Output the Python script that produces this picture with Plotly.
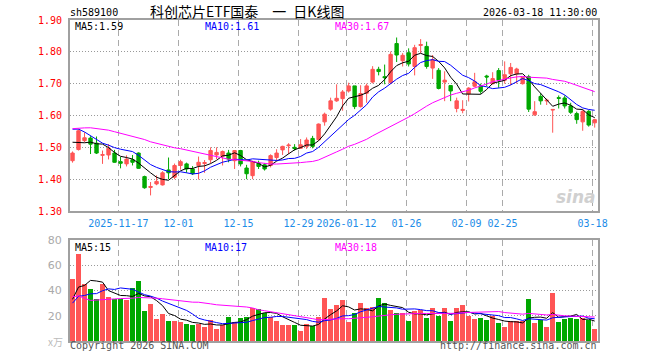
import plotly.graph_objects as go

# ---------------- data ----------------
tick_idx = [8, 18, 28, 38, 46, 56, 66, 72, 87]
tick_text = ["2025-11-17", "12-01", "12-15", "12-29", "2026-01-12",
             "01-26", "02-09", "02-25", "03-18"]

open_ = [1.458,1.493,1.521,1.529,1.513,1.475,1.476,1.482,1.455,1.448,
         1.461,1.482,1.408,1.374,1.385,1.382,1.429,1.406,1.443,1.448,
         1.432,1.443,1.449,1.461,1.476,1.472,1.482,1.458,1.490,1.435,
         1.411,1.450,1.445,1.443,1.468,1.492,1.505,1.500,1.497,1.503,
         1.528,1.524,1.580,1.620,1.646,1.653,1.677,1.693,1.628,1.670,
         1.705,1.745,1.722,1.703,1.826,1.772,1.797,1.754,1.820,1.817,
         1.749,1.742,1.705,1.694,1.622,1.616,1.668,1.692,1.693,1.724,
         1.700,1.741,1.711,1.731,1.731,1.700,1.722,1.602,1.660,1.646,
         1.617,1.656,1.655,1.630,1.606,1.580,1.613,1.577]
high = [1.487,1.557,1.547,1.535,1.534,1.490,1.510,1.492,1.470,1.475,
        1.476,1.484,1.411,1.391,1.412,1.425,1.468,1.449,1.461,1.452,
        1.441,1.471,1.460,1.500,1.500,1.490,1.492,1.490,1.492,1.445,
        1.458,1.458,1.450,1.478,1.494,1.505,1.513,1.510,1.526,1.531,
        1.536,1.575,1.609,1.656,1.698,1.680,1.703,1.693,1.695,1.700,
        1.755,1.753,1.760,1.801,1.845,1.796,1.811,1.822,1.840,1.832,
        1.790,1.749,1.739,1.694,1.656,1.648,1.689,1.734,1.700,1.728,
        1.736,1.749,1.770,1.765,1.750,1.722,1.728,1.645,1.670,1.653,
        1.620,1.663,1.663,1.640,1.612,1.617,1.617,1.590]
low = [1.452,1.490,1.516,1.479,1.479,1.448,1.462,1.452,1.434,1.440,
       1.443,1.433,1.370,1.349,1.381,1.380,1.400,1.400,1.430,1.420,
       1.413,1.399,1.420,1.450,1.463,1.443,1.453,1.432,1.440,1.400,
       1.400,1.432,1.427,1.437,1.458,1.476,1.479,1.490,1.495,1.495,
       1.497,1.521,1.568,1.615,1.643,1.615,1.672,1.620,1.625,1.640,
       1.701,1.726,1.698,1.699,1.768,1.754,1.754,1.726,1.796,1.747,
       1.715,1.682,1.645,1.645,1.610,1.607,1.644,1.689,1.668,1.692,
       1.697,1.687,1.700,1.695,1.700,1.697,1.611,1.599,1.634,1.633,
       1.546,1.622,1.622,1.605,1.574,1.552,1.565,1.562]
close = [1.482,1.552,1.530,1.510,1.482,1.477,1.497,1.453,1.450,1.463,
         1.453,1.434,1.373,1.377,1.393,1.420,1.420,1.443,1.455,1.432,
         1.417,1.453,1.452,1.490,1.484,1.487,1.463,1.490,1.448,1.417,
         1.455,1.440,1.432,1.474,1.482,1.503,1.507,1.496,1.508,1.523,
         1.503,1.573,1.604,1.646,1.654,1.674,1.693,1.628,1.669,1.693,
         1.745,1.738,1.719,1.792,1.790,1.789,1.762,1.813,1.823,1.754,
         1.775,1.685,1.711,1.677,1.646,1.619,1.686,1.706,1.676,1.721,
         1.716,1.711,1.728,1.751,1.746,1.720,1.620,1.612,1.646,1.648,
         1.619,1.654,1.630,1.610,1.587,1.613,1.570,1.587]
# closes of the 29 sessions before the window (estimated from the MA lines)
prior_close = [1.50,1.51,1.50,1.54,1.56,1.58,1.60,1.59,1.61,1.58,
               1.56,1.57,1.59,1.55,1.56,1.58,1.55,1.54,1.56,1.56,
               1.55,1.62,1.62,1.60,1.60,1.56,1.53,1.50,1.508]

volume = [49.3,68.8,44.8,41.1,33.6,44.8,35.2,33.6,33.1,32.8,
          41.6,47.2,24.0,29.6,17.6,21.6,16.0,16.0,15.2,13.6,
          12.8,13.6,10.7,16.8,9.6,12.8,19.2,15.2,18.4,19.2,
          26.4,25.6,22.4,19.2,16.0,12.8,12.8,12.8,8.0,13.6,
          12.0,19.2,34.4,25.2,28.4,32.3,14.8,22.0,29.9,26.0,
          26.8,33.9,29.9,24.4,22.0,22.0,15.6,23.6,24.4,18.0,
          26.0,19.6,26.0,15.6,26.0,28.4,19.6,17.2,18.0,16.4,
          19.6,14.0,10.9,15.6,15.6,15.6,33.1,14.0,16.4,10.9,
          37.9,14.8,17.2,18.0,17.2,18.0,16.4,9.3]
# volumes of the 29 sessions before the window (estimated from the MA lines)
prior_volume = [45,105,90,25,30,32,25,25,30,35,30,28,28,32,36,33,28,30,30,33,
                15,38,28,32,22,20.3,38.3,21.1,36.0]

price_ma_labels = ["MA5:1.59", "MA10:1.61", "MA30:1.67"]
vol_ma_labels = ["MA5:15", "MA10:17", "MA30:18"]
price_ticks = [1.30, 1.40, 1.50, 1.60, 1.70, 1.80, 1.90]
vol_ticks = [20, 40, 60, 80]

# ---------------- helpers ----------------
RED = "#ff5555"
GREEN = "#00a800"
MA_COLORS = ["#000000", "#0000ff", "#ff00ff"]
MONO = "DejaVu Sans Mono"


def moving_avg(prior, vals, n):
    full = list(prior) + list(vals)
    off = len(prior)
    return [sum(full[off + i - n + 1: off + i + 1]) / n for i in range(len(vals))]


idx = list(range(len(close)))
fig = go.Figure()

fig.add_trace(go.Candlestick(
    x=idx, open=open_, high=high, low=low, close=close,
    increasing=dict(line=dict(color=RED, width=1), fillcolor=RED),
    decreasing=dict(line=dict(color=GREEN, width=1), fillcolor=GREEN),
    whiskerwidth=0, hoverinfo="skip", xaxis="x", yaxis="y"))

for n, c in zip([5, 10, 30], MA_COLORS):
    fig.add_trace(go.Scatter(x=idx, y=moving_avg(prior_close, close, n), mode="lines",
                             line=dict(color=c, width=1), xaxis="x", yaxis="y",
                             hoverinfo="skip"))

bar_colors = [RED if c >= o else GREEN for o, c in zip(open_, close)]
fig.add_trace(go.Bar(x=idx, y=volume, marker=dict(color=bar_colors, line=dict(width=0)),
                     width=0.8, xaxis="x2", yaxis="y2", hoverinfo="skip"))
for n, c in zip([5, 10, 30], MA_COLORS):
    fig.add_trace(go.Scatter(x=idx, y=moving_avg(prior_volume, volume, n), mode="lines",
                             line=dict(color=c, width=1), xaxis="x2", yaxis="y2",
                             hoverinfo="skip"))

# page layout (body margin removed by the post script, so figure px == page px)
W, H = 660, 360
L, T = 70, 20
R = W - 598
B = H - 341
PW, PH = W - L - R, H - T - B


def px(x):
    return (x - L) / PW


def py(y):
    return (H - B - y) / PH


grid_x = [i - 0.35 for i in tick_idx]
common_x = dict(range=[-0.42, 87.55], tickvals=grid_x, showgrid=True, gridcolor="#aaaaaa",
                griddash="6px,4px", gridwidth=1, showline=True, mirror=True,
                linecolor="#a0a0a0", linewidth=2, zeroline=False, ticks="")

fig.update_layout(
    width=W, height=H, margin=dict(l=L, r=R, t=T, b=B),
    paper_bgcolor="white", plot_bgcolor="white", showlegend=False,
    bargap=0, boxgap=0.2,
    xaxis=dict(domain=[0, 1], anchor="y", ticktext=tick_text,
               tickfont=dict(family=MONO, size=10, color="#1c8ce8"),
               rangeslider=dict(visible=False), ticklabelstandoff=2, **common_x),
    yaxis=dict(domain=[py(211), 1], range=[1.30, 1.90], tickvals=price_ticks,
               ticktext=[f"{v:.2f}" for v in price_ticks],
               tickfont=dict(family=MONO, size=10, color="#ff0000"),
               showgrid=True, gridcolor="#999999", griddash="1px,2px",
               showline=True, mirror=True, linecolor="#a0a0a0", linewidth=2,
               zeroline=False, ticks="", ticklabelstandoff=4),
    xaxis2=dict(domain=[0, 1], anchor="y2", matches="x", showticklabels=False, **common_x),
    yaxis2=dict(domain=[0, py(240)], range=[0, 80], tickvals=vol_ticks,
                ticktext=[str(v) for v in vol_ticks],
                tickfont=dict(family="DejaVu Sans", size=11, color="#aaaaaa"),
                showgrid=True, gridcolor="#999999", griddash="1px,2px",
                showline=True, mirror=True, linecolor="#a0a0a0", linewidth=2,
                zeroline=False, ticks="", ticklabelstandoff=4),
)

ann = []


def text(x, y, s, anchor="left", color="#000", size=10, family=MONO):
    ann.append(dict(x=px(x), y=py(y), xref="paper", yref="paper", text=s,
                    showarrow=False, xanchor=anchor, yanchor="middle",
                    font=dict(family=family, size=size, color=color), borderpad=0))


text(69, 12, "sh589100")
text(149, 11, "科创芯片ETF国泰\u3000一\u2002日K线图", size=14, family="Noto Sans CJK SC")
text(598, 12, "2026-03-18 11:30:00", anchor="right")
for lab, c, x in zip(price_ma_labels, MA_COLORS, [74, 204, 334]):
    text(x, 26, lab, color=c)
for lab, c, x in zip(vol_ma_labels, MA_COLORS, [74, 204, 334]):
    text(x, 247, lab, color=c)
text(69, 346, "Copyright 2026 SINA.COM", color="#555555")
text(598, 346, "http://finance.sina.com.cn", anchor="right", color="#555555")
text(64, 341, "x万", anchor="right", color="#bbbbbb", size=10, family="Noto Sans CJK SC")
text(597, 197, "<b><i>sina</i></b>", anchor="right", color="#d0d0d0", size=17,
     family="DejaVu Sans")
fig.update_layout(annotations=ann)

fig.write_html("out.html",
               config={"displayModeBar": False},
               post_script="document.body.style.margin='0';document.body.style.overflow='hidden';")
